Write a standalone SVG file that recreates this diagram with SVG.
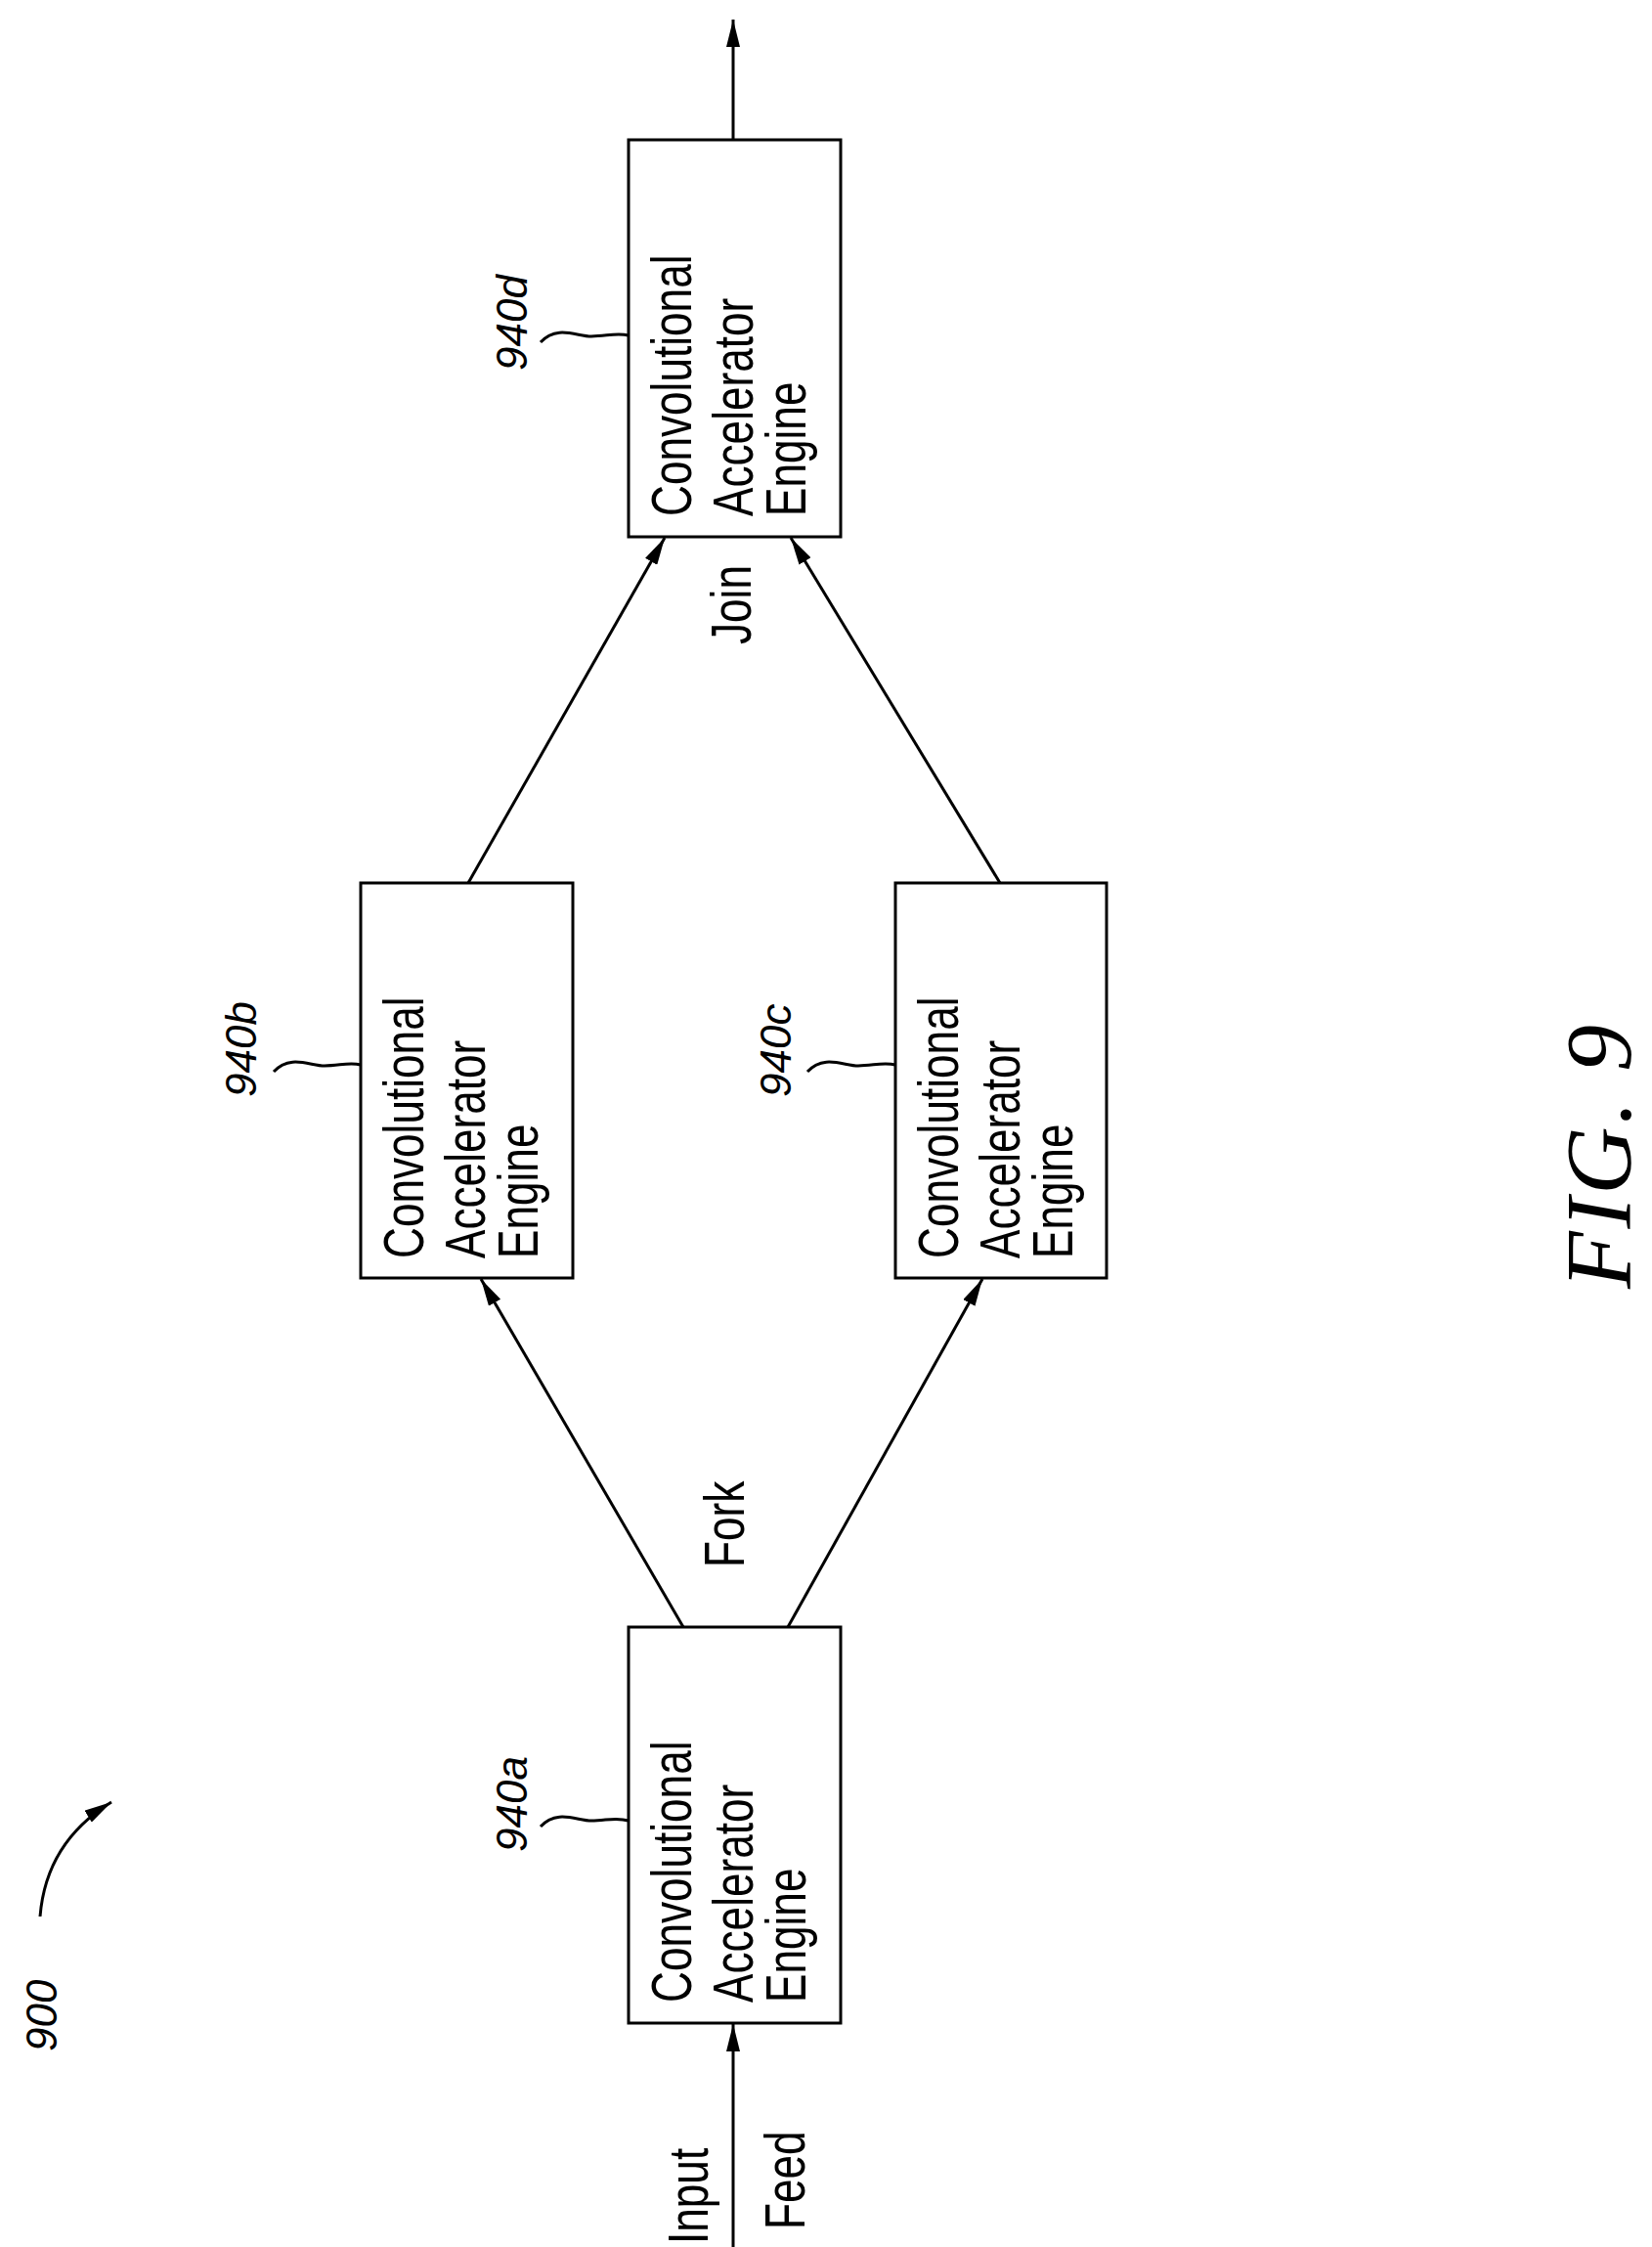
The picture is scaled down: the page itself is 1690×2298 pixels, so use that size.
<svg xmlns="http://www.w3.org/2000/svg" width="1690" height="2298" viewBox="0 0 1690 2298">
<style>
.box{fill:#fff;stroke:#000;stroke-width:3}
.ln{fill:none;stroke:#000;stroke-width:3}
.t{font-family:"Liberation Sans",sans-serif;font-size:48px;fill:#000}
.r{font-family:"Liberation Sans",sans-serif;font-style:italic;font-size:44px;fill:#000}
.fig{font-family:"Liberation Serif",serif;font-style:italic;font-size:96px;fill:#000}
</style>
<defs>
<marker id="b" viewBox="0 0 10 10" refX="10" refY="5" markerWidth="28" markerHeight="14" markerUnits="userSpaceOnUse" orient="auto" preserveAspectRatio="none"><path d="M0,0 L10,5 L0,10 z"/></marker>
</defs>
<g id="connectors">
<line class="ln" x1="750" y1="2298" x2="750" y2="2070" marker-end="url(#b)"/>
<line class="ln" x1="750" y1="143" x2="750" y2="20" marker-end="url(#b)"/>
<line class="ln" x1="699" y1="1664" x2="492" y2="1308" marker-end="url(#b)"/>
<line class="ln" x1="806" y1="1664" x2="1005" y2="1308" marker-end="url(#b)"/>
<line class="ln" x1="479" y1="903" x2="680" y2="550" marker-end="url(#b)"/>
<line class="ln" x1="1023" y1="903" x2="809" y2="550" marker-end="url(#b)"/>
<path class="ln" d="M41,1960 C45,1910 70,1870 114,1843" marker-end="url(#b)"/>
<path class="ln" d="M553,1868 C570,1850 590,1862 605,1862 S630,1858 643,1862"/>
<path class="ln" d="M280,1096 C297,1078 317,1090 332,1090 S357,1086 369,1089"/>
<path class="ln" d="M826,1096 C843,1078 863,1090 878,1090 S903,1086 916,1089"/>
<path class="ln" d="M553,350 C570,332 590,344 605,344 S630,340 643,343"/>
</g>
<g id="n940a">
<rect class="box" x="643" y="1664" width="217" height="405"/>
<text class="t" transform="translate(707,2048) rotate(-90) scale(0.92,1.18)">Convolutional</text>
<text class="t" transform="translate(770,2048) rotate(-90) scale(0.92,1.18)">Accelerator</text>
<text class="t" transform="translate(824,2048) rotate(-90) scale(0.92,1.18)">Engine</text>
<text class="r" transform="translate(539,1894) rotate(-90)">940a</text>
</g>
<g id="n940b">
<rect class="box" x="369" y="903" width="217" height="404"/>
<text class="t" transform="translate(433,1287) rotate(-90) scale(0.92,1.18)">Convolutional</text>
<text class="t" transform="translate(496,1287) rotate(-90) scale(0.92,1.18)">Accelerator</text>
<text class="t" transform="translate(550,1287) rotate(-90) scale(0.92,1.18)">Engine</text>
<text class="r" transform="translate(262,1122) rotate(-90)">940b</text>
</g>
<g id="n940c">
<rect class="box" x="916" y="903" width="216" height="404"/>
<text class="t" transform="translate(980,1287) rotate(-90) scale(0.92,1.18)">Convolutional</text>
<text class="t" transform="translate(1043,1287) rotate(-90) scale(0.92,1.18)">Accelerator</text>
<text class="t" transform="translate(1097,1287) rotate(-90) scale(0.92,1.18)">Engine</text>
<text class="r" transform="translate(809,1122) rotate(-90)">940c</text>
</g>
<g id="n940d">
<rect class="box" x="643" y="143" width="217" height="406"/>
<text class="t" transform="translate(707,528) rotate(-90) scale(0.92,1.18)">Convolutional</text>
<text class="t" transform="translate(770,528) rotate(-90) scale(0.92,1.18)">Accelerator</text>
<text class="t" transform="translate(824,528) rotate(-90) scale(0.92,1.18)">Engine</text>
<text class="r" transform="translate(539,379) rotate(-90)">940d</text>
</g>
<g id="labels">
<text class="t" transform="translate(761,1603) rotate(-90) scale(0.92,1.18)">Fork</text>
<text class="t" transform="translate(768,659) rotate(-90) scale(0.92,1.18)">Join</text>
<text class="t" transform="translate(724,2295) rotate(-90) scale(0.92,1.18)">Input</text>
<text class="t" transform="translate(823,2280) rotate(-90) scale(0.92,1.18)">Feed</text>
<text class="r" transform="translate(58,2098) rotate(-90)">900</text>
<text class="fig" transform="translate(1668,1318) rotate(-90)" textLength="270">FIG.  9</text>
</g>
</svg>
